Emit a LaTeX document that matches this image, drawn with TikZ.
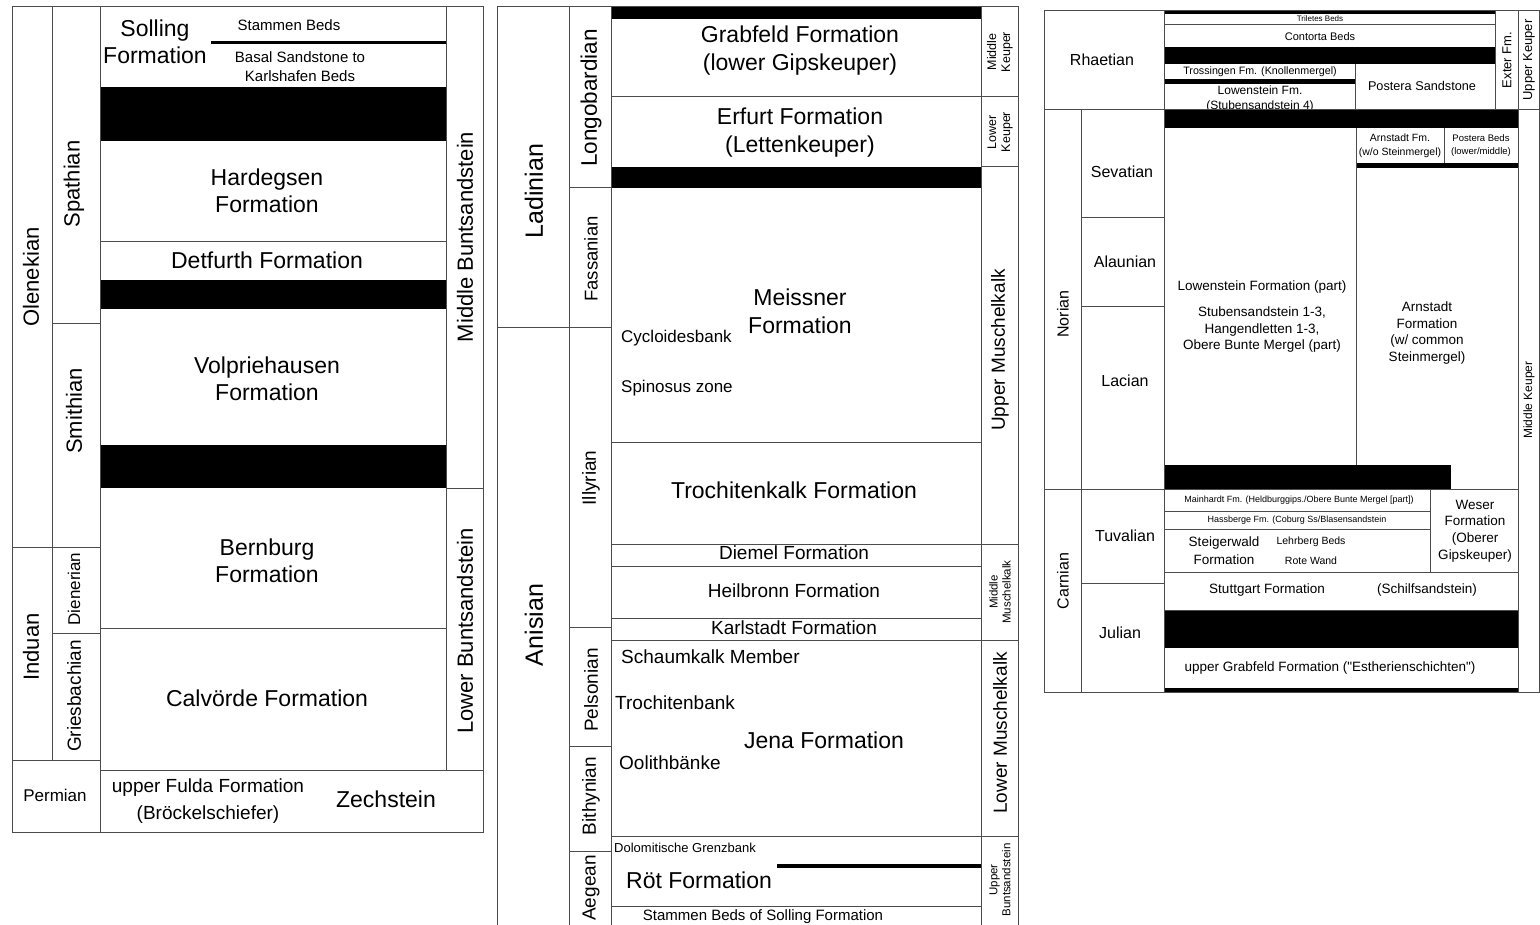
\documentclass[tikz,border=0pt]{standalone}
\usepackage{fontspec}
\setmainfont{Liberation Sans}[Ligatures=TeXOff]
\begin{document}
\begin{tikzpicture}[
	x=1pt,
	y=-1pt,
	line join=miter,
	rule/.style={draw=black!70, line width=1pt},
	bar/.style={fill=black},
	txt/.style 2 args={inner sep=0pt, align=center, font=\fontsize{#1}{#2}\selectfont},
	up/.style={rotate=90},
	]
\useasboundingbox (0,0) rectangle (1540,925);
% left column: Lower and Middle Buntsandstein
\fill[bar] (100,87) rectangle (446,141);
\fill[bar] (100,280) rectangle (446,309);
\fill[bar] (100,445) rectangle (446,488);
\draw[rule] (12,7) rectangle (483,832);
\draw[rule] (52,7) -- (52,760);
\draw[rule] (100,7) -- (100,832);
\draw[rule] (446,7) -- (446,770);
\foreach \y in {242, 628}
	\draw[rule] (100,\y) -- (446,\y);
\draw[rule] (100,770) -- (483,770);
\foreach \y in {547, 760}
	\draw[rule] (12,\y) -- (100,\y);
\foreach \y in {324, 633}
	\draw[rule] (52,\y) -- (100,\y);
\draw[rule] (446,488) -- (483,488);
\draw[line width=3pt] (211,43) -- (446,43);
\node[txt={23}{27}] (solling) at (155,42) {Solling\\Formation};
\node[txt={15}{19}] (stammen) at (289,25) {Stammen Beds};
\node[txt={15}{19}] (basal) at (300,67) {Basal Sandstone to\\Karlshafen Beds};
\node[txt={23}{27}] (hardegsen) at (267,191) {Hardegsen\\Formation};
\node[txt={23}{27}] (detfurth) at (267,260) {Detfurth Formation};
\node[txt={23}{27}] (volpriehausen) at (267,379) {Volpriehausen\\Formation};
\node[txt={23}{27}] (bernburg) at (267,561) {Bernburg\\Formation};
\node[txt={23}{27}] (calvoerde) at (267,698) {Calvörde Formation};
\node[txt={19}{27}] (fulda) at (208,801) {upper Fulda Formation\\(Bröckelschiefer)};
\node[txt={23}{27}] (zechstein) at (386,799) {Zechstein};
\node[txt={17}{20}] (permian) at (55,795) {Permian};
\node[txt={22}{26}, up] (olenekian) at (31,277) {Olenekian};
\node[txt={22}{26}, up] (induan) at (31,647) {Induan};
\node[txt={22}{26}, up] (spathian) at (74,184) {Spathian};
\node[txt={22}{26}, up] (smithian) at (74,411) {Smithian};
\node[txt={17}{20}, up] (dienerian) at (74,589) {Dienerian};
\node[txt={19}{22}, up] (griesbachian) at (74,696) {Griesbachian};
\node[txt={22}{26}, up] (midbunt) at (465,237) {Middle Buntsandstein};
\node[txt={22}{26}, up] (lowbunt) at (465,631) {Lower Buntsandstein};
% middle column: Muschelkalk and Lower Keuper
\fill[bar] (611,7) rectangle (981,19);
\fill[bar] (611,167) rectangle (981,188);
\draw[rule] (497,925) -- (497,7) -- (1018,7) -- (1018,925);
\foreach \x in {569, 611, 981}
	\draw[rule] (\x,7) -- (\x,925);
\foreach \y in {97, 442, 544, 566, 618, 640, 836, 906}
	\draw[rule] (611,\y) -- (981,\y);
\foreach \y in {97, 167, 544, 640, 836}
	\draw[rule] (981,\y) -- (1018,\y);
\draw[rule] (497,328) -- (569,328);
\foreach \y in {188, 328, 627, 746, 851}
	\draw[rule] (569,\y) -- (611,\y);
\draw[line width=4pt] (777,866) -- (981,866);
\node[txt={23}{28}] (grabfeld) at (800,51) {Grabfeld Formation\\(lower Gipskeuper)};
\node[txt={23}{28}] (erfurt) at (800,133) {Erfurt Formation\\(Lettenkeuper)};
\node[txt={23}{28}] (meissner) at (800,311) {Meissner\\Formation};
\node[txt={17}{20}, anchor=west] (cycloides) at (621,338) {Cycloidesbank};
\node[txt={17}{20}, anchor=west] (spinosus) at (621,388) {Spinosus zone};
\node[txt={23}{27}] (trochitenkalk) at (794,490) {Trochitenkalk Formation};
\node[txt={19}{22}] (diemel) at (794,553) {Diemel Formation};
\node[txt={19}{22}] (heilbronn) at (794,591) {Heilbronn Formation};
\node[txt={19}{22}] (karlstadt) at (794,628) {Karlstadt Formation};
\node[txt={19}{22}, anchor=west] (schaumkalk) at (621,657) {Schaumkalk Member};
\node[txt={19}{22}, anchor=west] (trochitenbank) at (615,703) {Trochitenbank};
\node[txt={19}{22}, anchor=west] (oolith) at (619,763) {Oolithbänke};
\node[txt={23}{27}] (jena) at (824,740) {Jena Formation};
\node[txt={13}{15}, anchor=west] (grenzbank) at (614,848) {Dolomitische Grenzbank};
\node[txt={23}{27}, anchor=west] (roet) at (626,880) {Röt Formation};
\node[txt={15}{18}] (stammensolling) at (763,917) {Stammen Beds of Solling Formation};
\node[txt={12.5}{14}, up] (midkeuper) at (1000,52) {Middle\\Keuper};
\node[txt={12.5}{14}, up] (lowkeuper) at (1000,132) {Lower\\Keuper};
\node[txt={19}{22}, up] (upmk) at (1000,350) {Upper Muschelkalk};
\node[txt={11.5}{13}, up] (midmk) at (1000,592) {Middle\\Muschelkalk};
\node[txt={19}{22}, up] (lowmk) at (1000,733) {Lower Muschelkalk};
\node[txt={11.5}{13}, up] (upbunt) at (1000,880) {Upper\\Buntsandstein};
\node[txt={25}{28}, up] (ladinian) at (534,191) {Ladinian};
\node[txt={25}{28}, up] (anisian) at (534,625) {Anisian};
\node[txt={22.5}{26}, up] (longobardian) at (591,98) {Longobardian};
\node[txt={18.5}{22}, up] (fassanian) at (591,259) {Fassanian};
\node[txt={19}{22}, up] (illyrian) at (591,478) {Illyrian};
\node[txt={19}{22}, up] (pelsonian) at (591,690) {Pelsonian};
\node[txt={19}{22}, up] (bithynian) at (591,796) {Bithynian};
\node[txt={19}{22}, up] (aegean) at (591,888) {Aegean};
% right column: Middle and Upper Keuper
\fill[bar] (1164,11) rectangle (1495,14);
\fill[bar] (1164,47) rectangle (1495,64);
\fill[bar] (1164,79) rectangle (1355,84);
\node[txt={12}{15}] (lowenfm) at (1260,99) {Lowenstein Fm.\\(Stubensandstein 4)};
\fill[bar] (1164,110) rectangle (1518,128);
\fill[bar] (1356,163) rectangle (1518,168);
\fill[bar] (1164,465) rectangle (1451,489);
\fill[bar] (1164,610) rectangle (1518,648);
\fill[bar] (1164,688) rectangle (1518,692);
\draw[rule] (1044,11) rectangle (1539,692);
\foreach \x in {1164, 1518}
	\draw[rule] (\x,11) -- (\x,692);
\draw[rule] (1081,110) -- (1081,692);
\draw[rule] (1495,11) -- (1495,110);
\draw[rule] (1044,110) -- (1539,110);
\draw[rule] (1044,489) -- (1518,489);
\foreach \y in {218, 307, 583}
	\draw[rule] (1081,\y) -- (1164,\y);
\draw[rule] (1164,25) -- (1495,25);
\draw[rule] (1355,64) -- (1355,110);
\draw[rule] (1356,128) -- (1356,465);
\draw[rule] (1444,128) -- (1444,163);
\foreach \y in {511, 529}
	\draw[rule] (1164,\y) -- (1430,\y);
\draw[rule] (1430,489) -- (1430,572);
\foreach \y in {572, 610}
	\draw[rule] (1164,\y) -- (1518,\y);
\node[txt={16}{19}] (rhaetian) at (1102,60) {Rhaetian};
\node[txt={8}{10}] (triletes) at (1320,19) {Triletes Beds};
\node[txt={11}{13}] (contorta) at (1320,37) {Contorta Beds};
\node[txt={10.7}{13}] (trossingen) at (1260,72) {Trossingen Fm. (Knollenmergel)};
\node[txt={12.7}{15}] (posterass) at (1422,86) {Postera Sandstone};
\node[txt={13}{15}, up] (exter) at (1507,60) {Exter Fm.};
\node[txt={13}{15}, up] (upkeuper) at (1529,60) {Upper Keuper};
\node[txt={12}{14}, up] (midkeuperR) at (1529,400) {Middle Keuper};
\node[txt={10.5}{14}] (arnstadtfm) at (1400,146) {Arnstadt Fm.\\(w/o Steinmergel)};
\node[txt={9.5}{13}] (posterabeds) at (1481,146) {Postera Beds\\(lower/middle)};
\node[txt={13.5}{16.5}] (lowenpart) at (1262,287) {Lowenstein Formation (part)};
\node[txt={13.5}{16.5}] (stuben) at (1262,330) {Stubensandstein 1-3,\\Hangendletten 1-3,\\Obere Bunte Mergel (part)};
\node[txt={13.5}{16.5}] (arnstadt) at (1427,333) {Arnstadt\\Formation\\(w/ common\\Steinmergel)};
\node[txt={16}{19}, up] (norian) at (1063,314) {Norian};
\node[txt={16}{19}, up] (carnian) at (1063,581) {Carnian};
\node[txt={16}{19}] (sevatian) at (1122,172) {Sevatian};
\node[txt={16}{19}] (alaunian) at (1125,262) {Alaunian};
\node[txt={16}{19}] (lacian) at (1125,381) {Lacian};
\node[txt={16}{19}] (tuvalian) at (1125,536) {Tuvalian};
\node[txt={16}{19}] (julian) at (1120,633) {Julian};
\node[txt={9}{11}] (mainhardt) at (1299,500) {Mainhardt Fm. (Heldburggips./Obere Bunte Mergel [part])};
\node[txt={9}{11}] (hassberge) at (1297,520) {Hassberge Fm. (Coburg Ss/Blasensandstein};
\node[txt={13.5}{18}] (steigerwald) at (1224,551) {Steigerwald\\Formation};
\node[txt={10.5}{13}] (lehrberg) at (1311,542) {Lehrberg Beds};
\node[txt={10.5}{13}] (rotewand) at (1311,561) {Rote Wand};
\node[txt={13.5}{16.7}] (weser) at (1475,531) {Weser\\Formation\\(Oberer\\Gipskeuper)};
\node[txt={13.5}{16}] (stuttgart) at (1267,590) {Stuttgart Formation};
\node[txt={13.5}{16}] (schilf) at (1427,590) {(Schilfsandstein)};
\node[txt={13.5}{16}] (grabfeldup) at (1330,668) {upper Grabfeld Formation ("Estherienschichten")};
\end{tikzpicture}
\end{document}
